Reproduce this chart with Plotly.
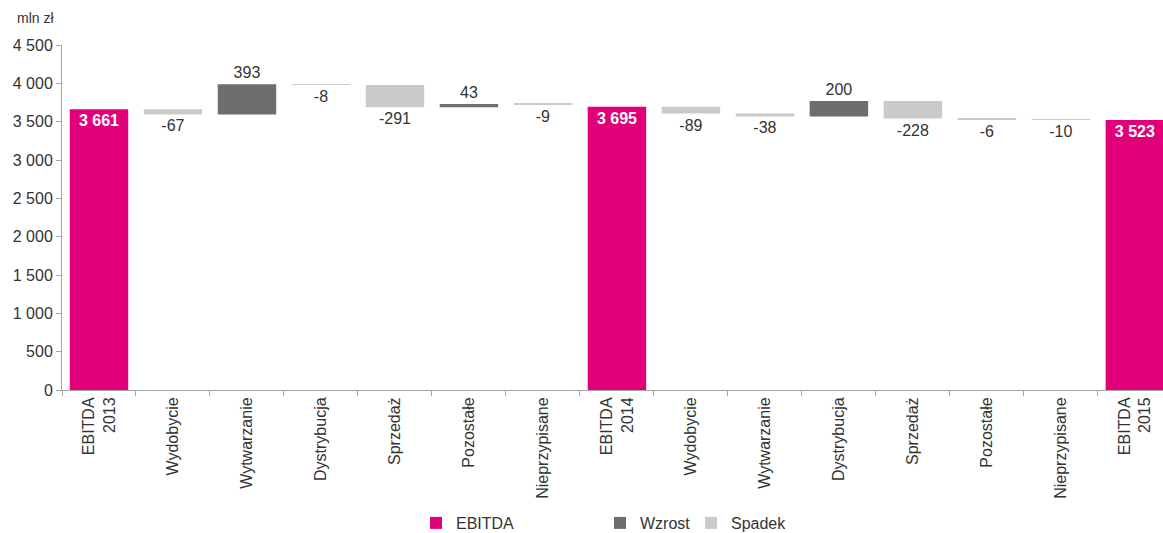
import plotly.graph_objects as go

categories = ["EBITDA<br>2013", "Wydobycie", "Wytwarzanie", "Dystrybucja", "Sprzedaż", "Pozostałe", "Nieprzypisane",
              "EBITDA<br>2014", "Wydobycie", "Wytwarzanie", "Dystrybucja", "Sprzedaż", "Pozostałe", "Nieprzypisane",
              "EBITDA<br>2015"]
values = [3661, -67, 393, -8, -291, 43, -9, 3695, -89, -38, 200, -228, -6, -10, 3523]
kinds = ["total", "delta", "delta", "delta", "delta", "delta", "delta", "total",
         "delta", "delta", "delta", "delta", "delta", "delta", "total"]
yticks = [0, 500, 1000, 1500, 2000, 2500, 3000, 3500, 4000, 4500]

PINK = "#E2007A"
DARK = "#6D6E70"
LIGHT = "#CACACA"
TXT = "#333333"
FONT = "Arial, Liberation Sans, sans-serif"

W, H = 1163, 533
ML, MR, MT, MB = 62, 0, 45, 143
PW = W - ML - MR
PH = H - MT - MB


def fmt(v):
    return f"{v:,}".replace(",", " ")


def px_x(p):
    return (p - ML) / PW


def px_y(p):
    return (H - MB - p) / PH


# compute bases
bases = []
running = 0
for v, k in zip(values, kinds):
    if k == "total":
        bases.append(0)
        running = v
    else:
        bases.append(running)
        running += v

xs = list(range(len(categories)))

fig = go.Figure()


def add(name, color, sel, textfont, textpos, legend, anchor=None):
    idx = [i for i in xs if sel(i)]
    kw = {}
    if anchor:
        kw["insidetextanchor"] = anchor
    fig.add_trace(go.Bar(
        name=name,
        x=[xs[i] for i in idx],
        y=[values[i] for i in idx],
        base=[bases[i] for i in idx],
        marker=dict(color=color, line=dict(width=0)),
        text=[fmt(values[i]) for i in idx],
        textposition=textpos,
        textfont=textfont,
        cliponaxis=False,
        width=0.79,
        hoverinfo="skip",
        legend=legend,
        **kw,
    ))


add("EBITDA", PINK, lambda i: kinds[i] == "total",
    dict(color="white", size=17, family=FONT, weight="bold"), "inside", "legend", "end")
add("Wzrost", DARK, lambda i: kinds[i] == "delta" and values[i] > 0,
    dict(color=TXT, size=16, family=FONT), "outside", "legend2")
add("Spadek", LIGHT, lambda i: kinds[i] == "delta" and values[i] < 0,
    dict(color=TXT, size=16, family=FONT), "outside", "legend3")

leg_common = dict(orientation="h", xanchor="left", yanchor="middle", y=px_y(523),
                  font=dict(size=16, color=TXT), itemclick=False, bgcolor="rgba(0,0,0,0)")

fig.update_layout(
    width=W, height=H,
    margin=dict(l=ML, r=MR, t=MT, b=MB, autoexpand=False),
    paper_bgcolor="white", plot_bgcolor="white",
    barmode="overlay",
    font=dict(family=FONT, color=TXT, size=16),
    showlegend=True,
    legend=dict(x=px_x(458 - 42), **leg_common),
    legend2=dict(x=px_x(642 - 42), **leg_common),
    legend3=dict(x=px_x(733 - 42), **leg_common),
    uniformtext=dict(mode="show", minsize=8),
)

fig.update_xaxes(
    range=[-0.5, 14.38],
    tickvals=xs, ticktext=categories, tickangle=-90,
    tickfont=dict(size=16, color=TXT),
    ticks="", showline=True, linecolor="#A6A6A6", linewidth=1,
    showgrid=False, zeroline=False, automargin=False,
    minor=dict(tick0=0.5, dtick=1, ticks="outside", ticklen=5, tickcolor="#A6A6A6", showgrid=False),
)
fig.update_yaxes(
    range=[0, 4500],
    tickvals=yticks, ticktext=[fmt(v) for v in yticks],
    tickfont=dict(size=16, color=TXT),
    ticks="outside", ticklen=5, tickcolor="#A6A6A6",
    showline=True, linecolor="#A6A6A6", linewidth=1,
    showgrid=False, zeroline=False, automargin=False,
)

fig.add_annotation(text="mln zł", xref="paper", yref="paper", x=px_x(35), y=px_y(18),
                   xanchor="center", yanchor="middle", showarrow=False,
                   font=dict(size=14, color=TXT))

fig.write_html("out.html")
